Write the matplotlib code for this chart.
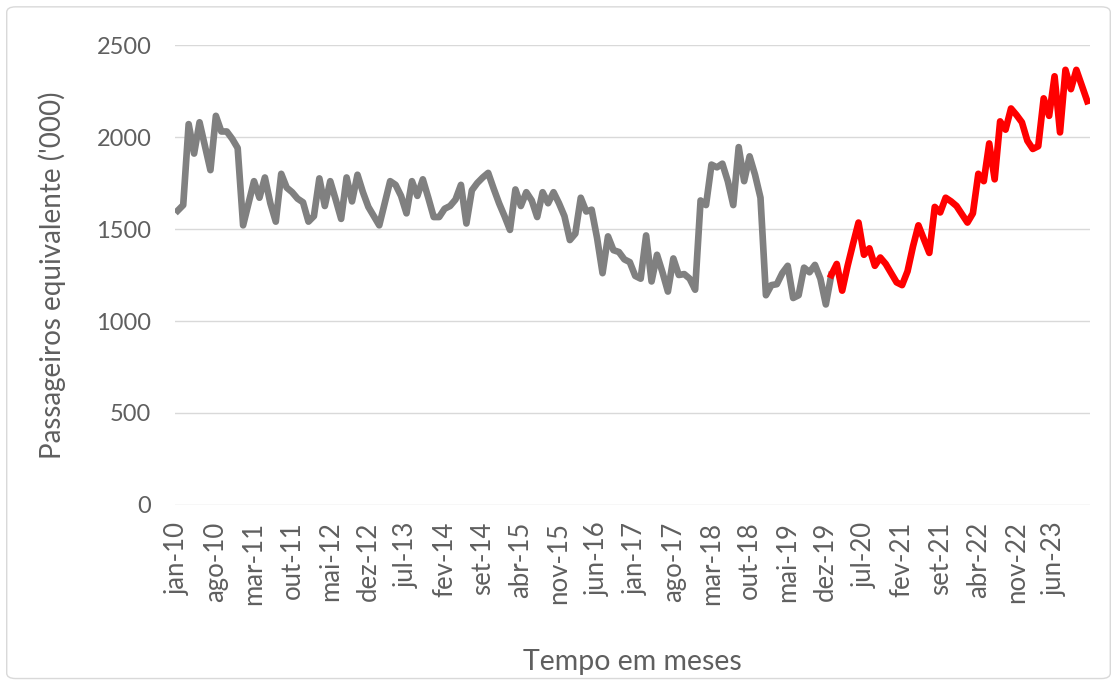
import numpy as np
import matplotlib.pyplot as plt
from matplotlib.patches import FancyBboxPatch

# monthly passengers ('000), jan-10 .. dez-23
anos = list(range(2010, 2024))
meses = ['jan', 'fev', 'mar', 'abr', 'mai', 'jun', 'jul', 'ago', 'set', 'out', 'nov', 'dez']
rotulos = [f"{m}-{str(a)[2:]}" for a in anos for m in meses]

passageiros = [
    1600, 1630, 2070, 1910, 2080, 1950, 1820, 2115, 2030, 2030, 1990, 1940,
    1520, 1640, 1760, 1670, 1780, 1640, 1540, 1800, 1725, 1700, 1665, 1645,
    1540, 1570, 1775, 1625, 1760, 1660, 1555, 1780, 1650, 1795, 1700, 1620,
    1570, 1520, 1640, 1760, 1740, 1680, 1585, 1760, 1680, 1770, 1670, 1565,
    1565, 1610, 1625, 1660, 1740, 1530, 1710, 1750, 1780, 1805, 1720, 1640,
    1570, 1495, 1715, 1625, 1700, 1655, 1565, 1700, 1640, 1700, 1640, 1570,
    1440, 1475, 1670, 1595, 1605, 1450, 1260, 1460, 1385, 1375, 1335, 1320,
    1245, 1230, 1465, 1215, 1360, 1265, 1160, 1340, 1250, 1255, 1230, 1170,
    1655, 1630, 1850, 1835, 1855, 1760, 1630, 1945, 1760, 1895, 1795, 1670,
    1140, 1195, 1200, 1260, 1300, 1125, 1140, 1290, 1265, 1305, 1230, 1090,
    1250, 1310, 1165, 1300, 1420, 1535, 1360, 1395, 1300, 1345, 1310, 1260,
    1210, 1195, 1270, 1405, 1520, 1445, 1370, 1620, 1590, 1670, 1650, 1625,
    1580, 1535, 1585, 1800, 1760, 1965, 1770, 2085, 2040, 2155, 2120, 2080,
    1980, 1935, 1950, 2210, 2115, 2330, 2025, 2365, 2260, 2365, 2280, 2195,
]
inicio_vermelho = 120  # jan-20

plt.rcParams['font.family'] = ['Lato', 'DejaVu Sans']
cinza_txt = '#5f5f5f'

fig = plt.figure(figsize=(11.17, 6.84), dpi=100)
fig.patches.append(FancyBboxPatch((0.006, 0.008), 0.988, 0.982, boxstyle='round,pad=0,rounding_size=0.008',
                                  transform=fig.transFigure, fill=False, edgecolor='#d9d9d9', lw=1))
ax = fig.add_axes([0.1567, 0.2617, 0.8191, 0.6725])

x = np.arange(len(passageiros))
y = np.array(passageiros)
ax.plot(x[:inicio_vermelho + 1], y[:inicio_vermelho + 1], color='#808080', lw=4.8, solid_joinstyle='round')
ax.plot(x[inicio_vermelho:], y[inicio_vermelho:], color='#ff0000', lw=4.8, solid_joinstyle='round')

ax.set_xlim(-0.5, len(passageiros) - 0.5)
ax.set_ylim(0, 2500)
ax.set_yticks(range(0, 2501, 500))
ax.grid(axis='y', color='#d9d9d9', lw=1)
ax.set_axisbelow(True)
for s in ax.spines.values():
    s.set_visible(False)

ax.set_xticks(x[::7])
ax.set_xticklabels(rotulos[::7], rotation=90)
ax.tick_params(axis='both', length=0, colors=cinza_txt)
ax.tick_params(axis='x', pad=12, labelsize=18.5)
ax.tick_params(axis='y', pad=17, labelsize=17)

ax.set_ylabel("Passageiros equivalente ('000)", fontsize=20, color=cinza_txt, labelpad=22)
ax.set_xlabel('Tempo em meses', fontsize=20.5, color=cinza_txt, labelpad=32)

plt.savefig('out.png', dpi=100)
